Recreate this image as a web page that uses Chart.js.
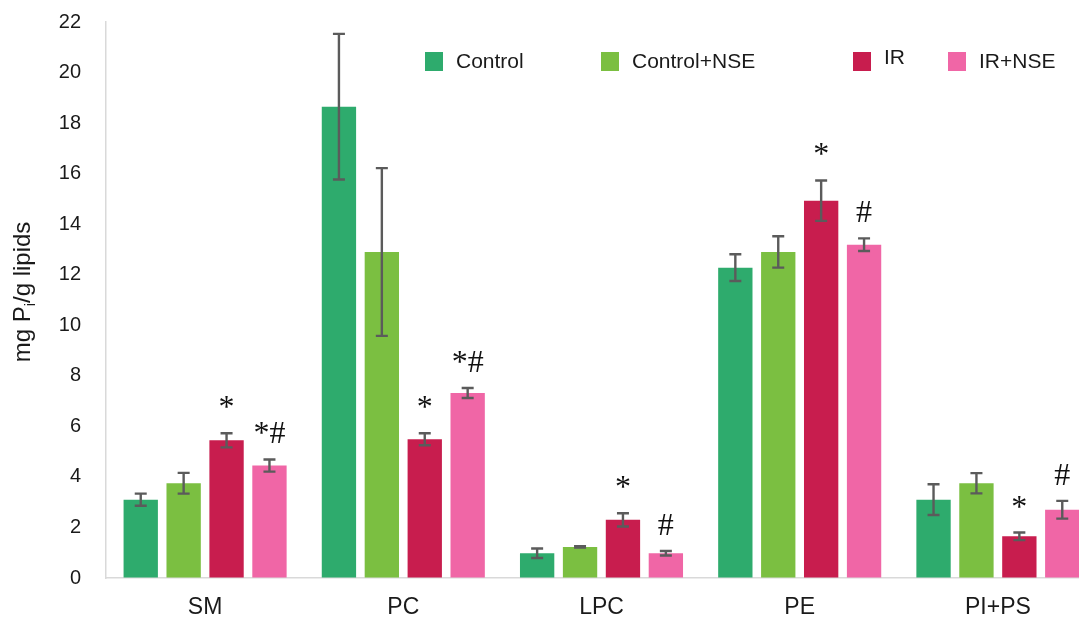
<!DOCTYPE html>
<html>
<head>
<meta charset="utf-8">
<title>Phospholipid fractions</title>
<script src="https://cdn.jsdelivr.net/npm/chart.js@4.4.1/dist/chart.umd.min.js"></script>
<style>
  html, body { margin: 0; padding: 0; background: #ffffff; overflow: hidden; }
  #wrap { position: relative; width: 1097px; height: 620px; }
  canvas { display: block; }
</style>
</head>
<body>
<div id="wrap"><canvas id="chart" width="1097" height="620"></canvas></div>
<script>
// Phospholipid classes
const categories = ['SM', 'PC', 'LPC', 'PE', 'PI+PS'];

// Group means (mg Pi / g lipids) and their error half-widths
const control       = [3.10, 18.65, 0.98, 12.28, 3.10];
const controlErr    = [0.24, 2.88, 0.19, 0.53, 0.61];
const controlNse    = [3.75, 12.90, 1.23, 12.90, 3.75];
const controlNseErr = [0.41, 3.32, 0.03, 0.62, 0.40];
const ir            = [5.45, 5.49, 2.30, 14.93, 1.65];
const irErr         = [0.28, 0.24, 0.26, 0.80, 0.15];
const irNse         = [4.45, 7.32, 0.98, 13.19, 2.70];
const irNseErr      = [0.24, 0.20, 0.09, 0.25, 0.35];

// Significance marks (* vs Control, # vs IR)
const controlMarks    = ['', '', '', '', ''];
const controlNseMarks = ['', '', '', '', ''];
const irMarks         = ['*', '*', '*', '*', '*'];
const irNseMarks      = ['*#', '*#', '#', '#', '#'];

// Axis ticks
const yMin = 0, yMax = 22, yStep = 2;

const seriesNames = ['Control', 'Control+NSE', 'IR', 'IR+NSE'];
const seriesColors = ['#2eab6d', '#7bbf41', '#c81d4e', '#f066a6'];

const datasets = [
  { label: seriesNames[0], data: control,    err: controlErr,    marks: controlMarks },
  { label: seriesNames[1], data: controlNse, err: controlNseErr, marks: controlNseMarks },
  { label: seriesNames[2], data: ir,         err: irErr,         marks: irMarks },
  { label: seriesNames[3], data: irNse,      err: irNseErr,      marks: irNseMarks }
].map((d, i) => Object.assign(d, {
  backgroundColor: seriesColors[i],
  borderWidth: 0,
  categoryPercentage: 0.866,
  barPercentage: 0.80
}));

// Error bars and significance marks drawn on top of the bars
const errorBarPlugin = {
  id: 'errorBars',
  afterDatasetsDraw(chart) {
    const ctx = chart.ctx;
    const yScale = chart.scales.y;
    ctx.save();
    chart.data.datasets.forEach((ds, di) => {
      const meta = chart.getDatasetMeta(di);
      meta.data.forEach((bar, i) => {
        const v = ds.data[i], e = ds.err[i];
        const yTop = yScale.getPixelForValue(v + e);
        const yBot = yScale.getPixelForValue(v - e);
        const x = bar.x;
        ctx.strokeStyle = '#5b5b5b';
        ctx.lineWidth = 2.4;
        ctx.lineCap = 'butt';
        ctx.beginPath();
        ctx.moveTo(x, yTop); ctx.lineTo(x, yBot);
        ctx.moveTo(x - 6, yTop); ctx.lineTo(x + 6, yTop);
        ctx.moveTo(x - 6, yBot); ctx.lineTo(x + 6, yBot);
        ctx.stroke();
        const mark = ds.marks[i];
        if (mark) {
          ctx.fillStyle = '#111111';
          ctx.font = '32px "Liberation Serif", "DejaVu Serif", serif';
          ctx.textAlign = 'center';
          ctx.textBaseline = 'alphabetic';
          ctx.fillText(mark, x, yTop - 16);
        }
      });
    });
    ctx.restore();
  }
};

// Legend row inside the plot area
const legendPlugin = {
  id: 'insideLegend',
  afterDraw(chart) {
    const ctx = chart.ctx;
    const boxX = [425, 601, 853, 948];
    const textRaise = [0, 0, 4, 0];
    ctx.save();
    ctx.font = '21px "Liberation Sans", Arial, sans-serif';
    ctx.textAlign = 'left';
    ctx.textBaseline = 'middle';
    chart.data.datasets.forEach((ds, i) => {
      ctx.fillStyle = ds.backgroundColor;
      ctx.fillRect(boxX[i], 52, 18, 19);
      ctx.fillStyle = '#1a1a1a';
      ctx.fillText(ds.label, boxX[i] + 31, 62 - textRaise[i]);
    });
    ctx.restore();
  }
};

// Rotated y-axis title with subscript i
const yTitlePlugin = {
  id: 'yTitle',
  afterDraw(chart) {
    const ctx = chart.ctx;
    const a = chart.chartArea;
    const main = '24px "Liberation Sans", Arial, sans-serif';
    const sub = '15px "Liberation Sans", Arial, sans-serif';
    const p1 = 'mg P', p2 = 'i', p3 = '/g lipids';
    ctx.save();
    ctx.font = main;
    const w1 = ctx.measureText(p1).width, w3 = ctx.measureText(p3).width;
    ctx.font = sub;
    const w2 = ctx.measureText(p2).width;
    const total = w1 + w2 + w3;
    ctx.translate(22, (a.top + a.bottom) / 2 - 8);
    ctx.rotate(-Math.PI / 2);
    ctx.fillStyle = '#1a1a1a';
    ctx.textAlign = 'left';
    ctx.textBaseline = 'alphabetic';
    let x = -total / 2;
    const base = 8;
    ctx.font = main; ctx.fillText(p1, x, base); x += w1;
    ctx.font = sub;  ctx.fillText(p2, x, base + 5); x += w2;
    ctx.font = main; ctx.fillText(p3, x, base);
    ctx.restore();
  }
};

new Chart(document.getElementById('chart'), {
  type: 'bar',
  data: { labels: categories, datasets },
  options: {
    responsive: false,
    animation: false,
    layout: { padding: { top: 22, right: 0, left: 0, bottom: 0 } },
    plugins: {
      legend: { display: false },
      tooltip: { enabled: false }
    },
    scales: {
      x: {
        grid: { display: false, drawTicks: false },
        border: { display: true, color: '#d9d9d9', width: 1.5 },
        ticks: {
          color: '#1a1a1a',
          padding: 16,
          font: { family: '"Liberation Sans", Arial, sans-serif', size: 23 }
        },
        afterFit(scale) { scale.height = 42; }
      },
      y: {
        min: yMin,
        max: yMax,
        grid: {
          display: true,
          drawOnChartArea: false,
          drawTicks: true,
          tickLength: 25,
          tickColor: 'rgba(0,0,0,0)',
          color: 'rgba(0,0,0,0)'
        },
        border: { display: true, color: '#d9d9d9', width: 1.5 },
        ticks: {
          stepSize: yStep,
          color: '#1a1a1a',
          padding: 0,
          font: { family: '"Liberation Sans", Arial, sans-serif', size: 20 }
        },
        afterFit(scale) { scale.width = 106; }
      }
    }
  },
  plugins: [errorBarPlugin, legendPlugin, yTitlePlugin]
});
</script>
</body>
</html>
